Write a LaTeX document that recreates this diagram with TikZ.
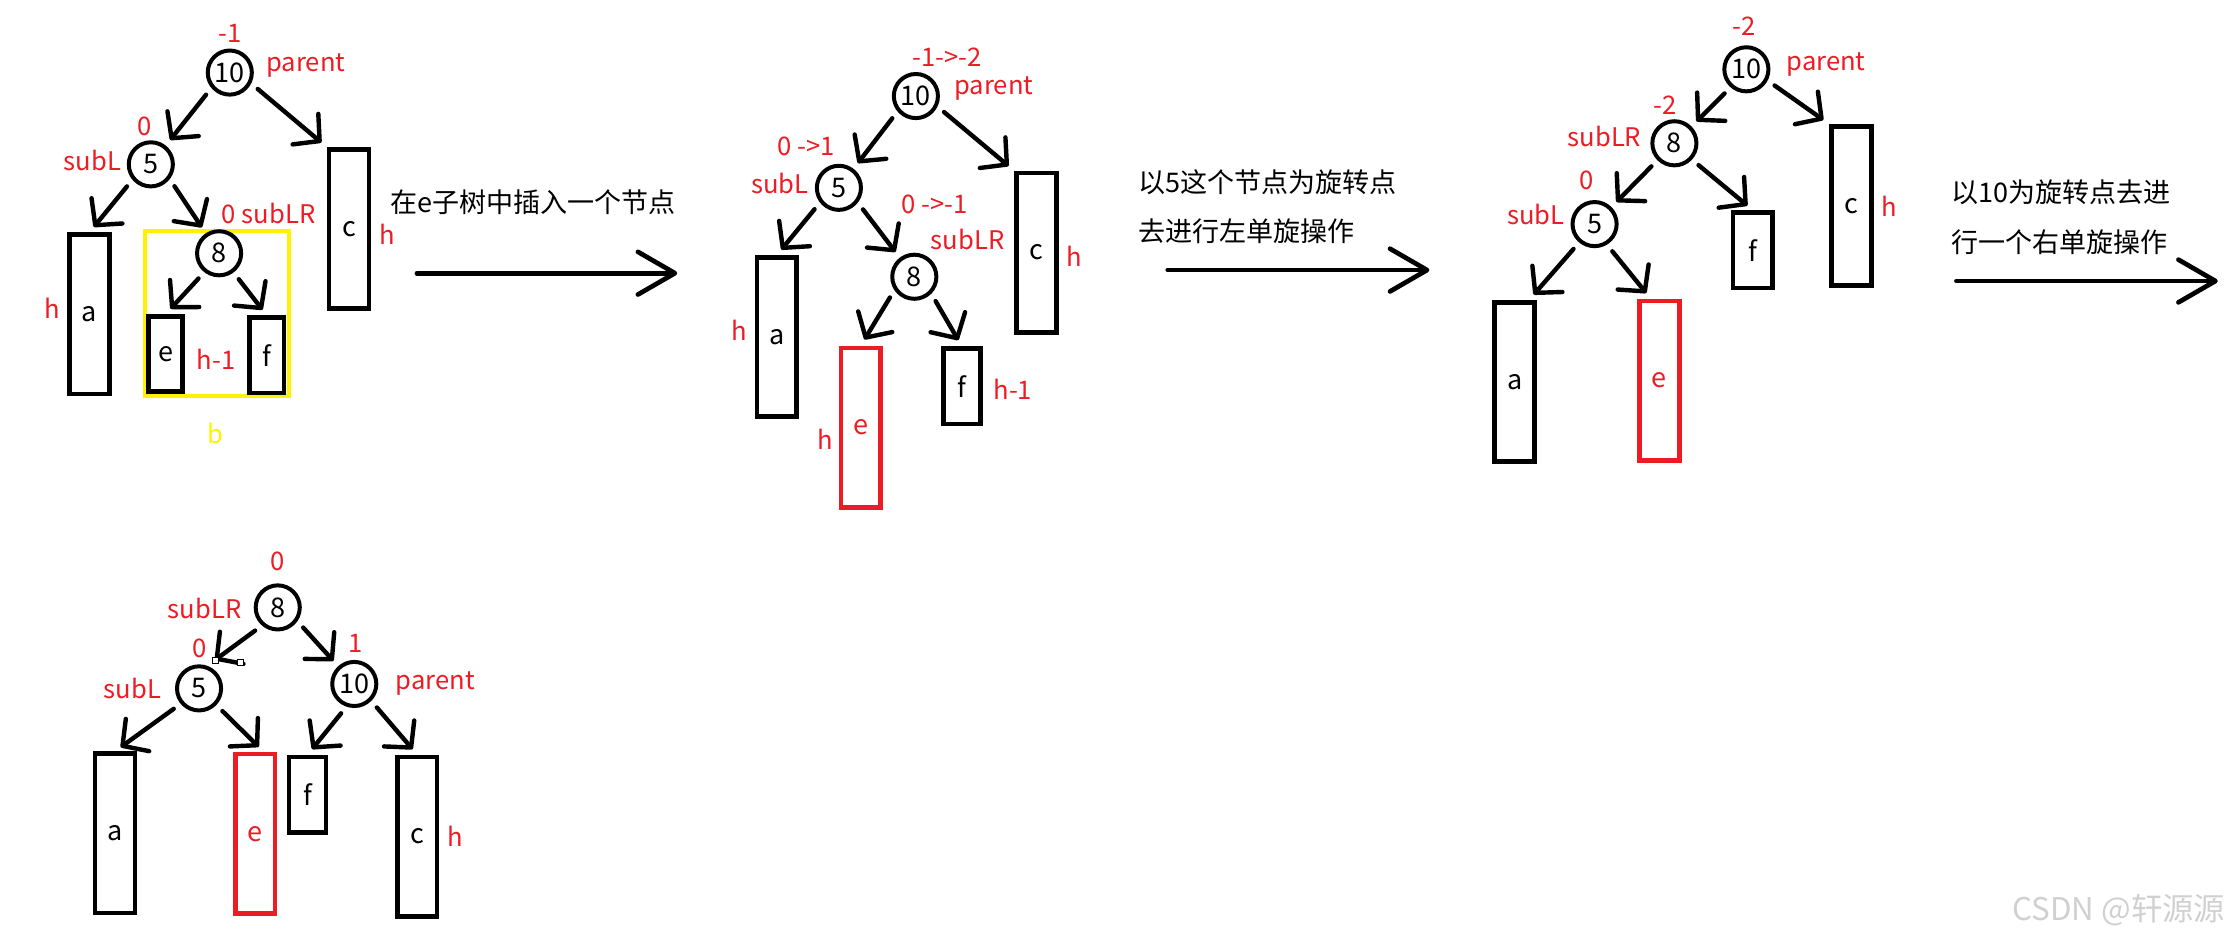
\documentclass[tikz,border=0pt]{standalone}
\usepackage{fontspec}
\setmainfont{Noto Sans CJK SC}
\usetikzlibrary{arrows.meta}
\definecolor{pred}{RGB}{237,28,36}
\definecolor{pyellow}{RGB}{255,242,0}
\definecolor{wmark}{RGB}{208,208,208}
\tikzset{
  knot/.style={draw, circle, line width=2.8pt, minimum size=31pt, inner sep=0pt, font=\fontsize{19}{19}\selectfont},
  tallbox/.style={draw, rectangle, line width=3.3pt, minimum width=28pt, minimum height=112pt, inner sep=0pt, font=\fontsize{19}{19}\selectfont},
  halfbox/.style={tallbox, minimum height=53pt},
  tag/.style={text=pred, inner sep=0pt, font=\fontsize{18}{18}\selectfont},
  arw/.style={-{Straight Barb[length=13pt, width=28pt, round]}, line width=3.1pt, line cap=round, shorten <=6pt, shorten >=5pt},
  bigarw/.style={-{Straight Barb[length=26pt, width=30pt, round]}, line width=3.3pt, line cap=round},
  handle/.style={draw, fill=white, line width=0.6pt, minimum size=4.2pt, inner sep=0pt},
  note/.style={anchor=west, inner sep=0pt, font=\fontsize{19}{19}\selectfont}
}
\begin{document}
\begin{tikzpicture}[x=1pt, y=-1pt]
    \useasboundingbox (0,0) rectangle (1568,665);

    % before the insertion
    \node[draw=pyellow, line width=2.8pt, minimum width=101pt, minimum height=116pt] (p1b) at (152.4,220.5) {};
    \node[knot] (p1n10) at (161.5,51) {10};
    \node[knot] (p1n5) at (106,115.5) {5};
    \node[knot] (p1n8) at (154,178) {8};
    \node[tallbox] (p1a) at (62.8,221) {a};
    \node[halfbox, minimum width=24pt] (p1e) at (116.5,248.8) {e};
    \node[halfbox, minimum width=24pt] (p1f) at (187.5,249.8) {f};
    \node[tallbox] (p1c) at (245.3,161) {c};
    \node[tag] (p1bf10) at (161.5,23.4) {-1};
    \node[tag] (p1par) at (215,46) {parent};
    \node[tag] (p1bf5) at (101.6,89) {0};
    \node[tag] (p1subl) at (65,112.5) {subL};
    \node[tag] (p1sublr) at (188.8,150) {0 subLR};
    \node[tag] (p1ha) at (37,217) {h};
    \node[tag] (p1hc) at (272,165) {h};
    \node[tag] (p1hef) at (152,252.6) {h-1};
    \node[tag, text=pyellow] (p1lb) at (151.4,304.6) {b};
    \draw[arw] (p1n10.-140) -- (p1n5);
    \draw[arw] (p1n10.-27) -- (p1c.north west);
    \draw[arw] (p1n5.-140) -- (p1a.north);
    \draw[arw] (p1n5.-38) -- (p1n8);
    \draw[arw] (p1n8.-128) -- (p1e.north);
    \draw[arw] (p1n8.-53) -- (p1f.north);
    \node[note] (t1) at (274,141.8) {在e子树中插入一个节点};
    \coordinate (g1s) at (293,192);
    \coordinate (g1e) at (476,192);
    \draw[bigarw] (g1s) -- (g1e);

    % after the insertion
    \node[knot] (p2n10) at (643.7,67.5) {10};
    \node[knot] (p2n5) at (589.6,132) {5};
    \node[knot] (p2n8) at (642.6,194.5) {8};
    \node[tallbox] (p2a) at (546,236.9) {a};
    \node[tallbox, draw=pred, text=pred] (p2e) at (605,300.5) {e};
    \node[halfbox, minimum width=26pt] (p2f) at (676,271.5) {f};
    \node[tallbox] (p2c) at (728.3,177.5) {c};
    \node[tag] (p2bf10) at (665.8,40.3) {-1->-2};
    \node[tag] (p2par) at (698.5,62) {parent};
    \node[tag] (p2bf5) at (566.5,102.6) {0 ->1};
    \node[tag] (p2subl) at (548,129) {subL};
    \node[tag] (p2bf8) at (656.8,143.4) {0 ->-1};
    \node[tag] (p2sublr) at (680,168) {subLR};
    \node[tag] (p2ha) at (519.4,232) {h};
    \node[tag] (p2he) at (580,308.8) {h};
    \node[tag] (p2hf) at (711.8,273.7) {h-1};
    \node[tag] (p2hc) at (755,180.4) {h};
    \draw[arw] (p2n10.-140) -- (p2n5);
    \draw[arw] (p2n10.-26) -- (p2c.north west);
    \draw[arw] (p2n5.-142) -- (p2a.north);
    \draw[arw] (p2n5.-38) -- (p2n8);
    \draw[arw] (p2n8.-146) -- (p2e.north);
    \draw[arw] (p2n8.-45) -- (p2f.north);
    \node[note] (t2a) at (800,128.4) {以5这个节点为旋转点};
    \node[note] (t2b) at (800,162.4) {去进行左单旋操作};
    \coordinate (g2s) at (820.7,189.8);
    \coordinate (g2e) at (1004.6,189.8);
    \draw[bigarw] (g2s) -- (g2e);

    % after the left rotation at 5
    \node[knot] (p3n10) at (1227.4,48.7) {10};
    \node[knot] (p3n8) at (1176.8,100.7) {8};
    \node[knot] (p3n5) at (1120.7,157.5) {5};
    \node[tallbox] (p3a) at (1064.5,268.4) {a};
    \node[tallbox, draw=pred, text=pred] (p3e) at (1166.2,267.5) {e};
    \node[halfbox] (p3f) at (1231.9,175.8) {f};
    \node[tallbox] (p3c) at (1301.2,144.8) {c};
    \node[tag] (p3bf10) at (1225.5,18.7) {-2};
    \node[tag] (p3par) at (1283.4,45) {parent};
    \node[tag] (p3bf8) at (1170,73.8) {-2};
    \node[tag] (p3sublr) at (1127.6,96) {subLR};
    \node[tag] (p3bf5) at (1115,126.5) {0};
    \node[tag] (p3subl) at (1079.5,151) {subL};
    \node[tag] (p3hc) at (1327.7,144.8) {h};
    \draw[arw] (p3n10.-131) -- (p3n8);
    \draw[arw] (p3n10.-28) -- (p3c.north west);
    \draw[arw] (p3n8.-135) -- (p3n5);
    \draw[arw] (p3n8.-43) -- (p3f.north);
    \draw[arw] (p3n5.-130) -- (p3a.80);
    \draw[arw] (p3n5.-59) -- (p3e.96);
    \node[note] (t3a) at (1371.5,135.4) {以10为旋转点去进};
    \node[note] (t3b) at (1371.5,170) {行一个右单旋操作};
    \coordinate (g3s) at (1375,197.5);
    \coordinate (g3e) at (1558.7,197.5);
    \draw[bigarw] (g3s) -- (g3e);

    % after the right rotation at 10
    \node[knot] (p4n8) at (195.2,426.9) {8};
    \node[knot] (p4n5) at (139.9,483.8) {5};
    \node[knot] (p4n10) at (249,480.7) {10};
    \node[tallbox] (p4a) at (80.8,585.7) {a};
    \node[tallbox, draw=pred, text=pred] (p4e) at (179.3,586) {e};
    \node[halfbox, minimum width=26pt] (p4f) at (216.2,558.5) {f};
    \node[tallbox] (p4c) at (293.2,588) {c};
    \node[tag] (p4bf8) at (195.2,394.8) {0};
    \node[tag] (p4sublr) at (143.9,427.6) {subLR};
    \node[tag] (p4bf5) at (140.6,455.7) {0};
    \node[tag] (p4subl) at (93.1,483.8) {subL};
    \node[tag] (p4bf10) at (250,452.2) {1};
    \node[tag] (p4par) at (306,480.3) {parent};
    \node[tag] (p4hc) at (319.8,588) {h};
    \coordinate (hd1) at (151.1,463.9);
    \coordinate (hd2) at (169.2,465.8);
    \draw[arw, shorten >=0pt] (p4n8.-131) -- (hd1);
    \draw[arw] (p4n8.-35) -- (p4n10);
    \draw[arw] (p4n5.-140) -- (p4a.north);
    \draw[arw] (p4n5.-44) -- (p4e.84);
    \draw[arw] (p4n10.-109) -- (p4f.north);
    \draw[arw] (p4n10.-45) -- (p4c.north);
    \node[handle] (hb1) at (hd1) {};
    \node[handle] (hb2) at (hd2) {};

    \node[anchor=east, inner sep=0pt, text=wmark, font=\fontsize{22}{22}\selectfont] (wm) at (1564,639.6) {CSDN @轩源源};
\end{tikzpicture}
\end{document}
